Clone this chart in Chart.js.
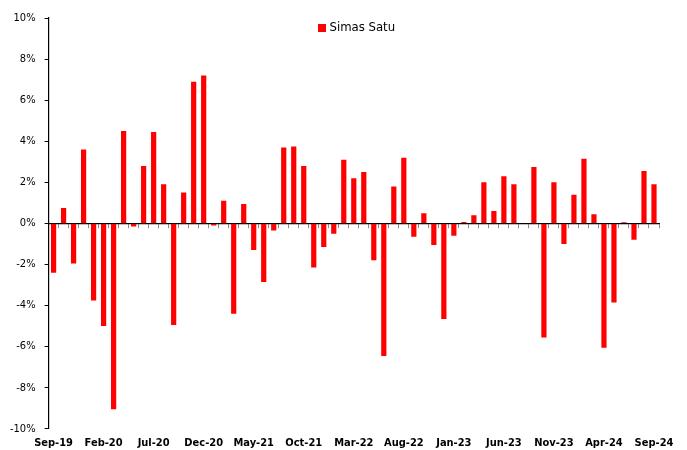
<!DOCTYPE html>
<html>
<head>
<meta charset="utf-8">
<script src="https://cdn.jsdelivr.net/npm/chart.js@4/dist/chart.umd.min.js"></script>
<style>
  body { margin: 0; background: #fff; }
  canvas { display: block; }
</style>
</head>
<body>
<canvas id="barChart" width="687" height="450"></canvas>
<script>
// monthly returns, Sep-19 .. Sep-24
const months = [
  "Sep-19", "Oct-19", "Nov-19", "Dec-19",
  "Jan-20", "Feb-20", "Mar-20", "Apr-20", "May-20", "Jun-20", "Jul-20", "Aug-20", "Sep-20", "Oct-20", "Nov-20", "Dec-20",
  "Jan-21", "Feb-21", "Mar-21", "Apr-21", "May-21", "Jun-21", "Jul-21", "Aug-21", "Sep-21", "Oct-21", "Nov-21", "Dec-21",
  "Jan-22", "Feb-22", "Mar-22", "Apr-22", "May-22", "Jun-22", "Jul-22", "Aug-22", "Sep-22", "Oct-22", "Nov-22", "Dec-22",
  "Jan-23", "Feb-23", "Mar-23", "Apr-23", "May-23", "Jun-23", "Jul-23", "Aug-23", "Sep-23", "Oct-23", "Nov-23", "Dec-23",
  "Jan-24", "Feb-24", "Mar-24", "Apr-24", "May-24", "Jun-24", "Jul-24", "Aug-24", "Sep-24"
];

const simasSatu = [
  -2.4, 0.75, -1.95, 3.6,
  -3.75, -5.0, -9.05, 4.5, -0.15, 2.8, 4.45, 1.9, -4.95, 1.5, 6.9, 7.2,
  -0.1, 1.1, -4.4, 0.95, -1.3, -2.85, -0.35, 3.7, 3.75, 2.8, -2.15, -1.15,
  -0.5, 3.1, 2.2, 2.5, -1.8, -6.45, 1.8, 3.2, -0.65, 0.5, -1.05, -4.65,
  -0.6, 0.07, 0.4, 2.0, 0.6, 2.3, 1.9, 0, 2.75, -5.55, 2.0, -1.0,
  1.4, 3.15, 0.45, -6.05, -3.85, 0.05, -0.8, 2.55, 1.9
];

const labelEvery = 5;
const yTicks = { min: -10, max: 10, step: 2 };

const baseFont = "'DejaVu Sans Condensed', 'DejaVu Sans', sans-serif";

// legend sits inside the plot, near the top, like the original
const insideLegend = {
  id: "insideLegend",
  afterDraw(chart) {
    const { ctx, chartArea } = chart;
    const ds = chart.data.datasets[0];
    ctx.save();
    ctx.font = "13px " + baseFont;
    const textW = ctx.measureText(ds.label).width;
    const box = 8, gap = 3;
    const x0 = (chartArea.left + chartArea.right) / 2 + 3 - (box + gap + textW) / 2;
    const cy = chartArea.top + 10;
    ctx.fillStyle = ds.backgroundColor;
    ctx.fillRect(Math.round(x0), Math.round(cy - box / 2), box, box);
    ctx.fillStyle = "#000";
    ctx.textBaseline = "middle";
    ctx.fillText(ds.label, x0 + box + gap, cy);
    ctx.restore();
  },
};

const ctx = document.getElementById("barChart").getContext("2d");

new Chart(ctx, {
  type: "bar",
  data: {
    labels: months,
    datasets: [
      {
        label: "Simas Satu",
        data: simasSatu,
        backgroundColor: "#FF0000",
        borderWidth: 0,
        categoryPercentage: 1.0,
        barPercentage: 0.52,
        xAxisID: "x",
      },
    ],
  },
  options: {
    responsive: false,
    animation: false,
    layout: {
      padding: { top: 18, right: 28, bottom: 0, left: 1 },
    },
    plugins: {
      legend: { display: false },
      tooltip: { enabled: false },
    },
    scales: {
      x: {
        type: "category",
        position: "bottom",
        grid: { display: false },
        border: { display: false },
        ticks: {
          autoSkip: false,
          maxRotation: 0,
          padding: 0,
          color: "#000",
          font: { family: baseFont, size: 11, weight: "bold" },
          callback: (v, i) => (i % labelEvery === 0 ? months[i] : ""),
        },
      },
      // zero line with small tick marks between the months
      xZero: {
        type: "category",
        axis: "x",
        position: { y: 0 },
        offset: true,
        grid: {
          display: true,
          drawOnChartArea: false,
          drawTicks: true,
          tickLength: 4,
          color: "#8c8c8c",
          offset: true,
        },
        border: { display: true, color: "#000", width: 1.2 },
        ticks: { display: false },
      },
      y: {
        min: yTicks.min,
        max: yTicks.max,
        grid: {
          drawOnChartArea: false,
          drawTicks: true,
          tickLength: 4,
          color: "#000",
        },
        border: { display: true, color: "#000", width: 1.2 },
        ticks: {
          stepSize: yTicks.step,
          padding: 9,
          color: "#000",
          font: { family: baseFont, size: 11 },
          callback: (v) => v + "%",
        },
      },
    },
  },
  plugins: [insideLegend],
});
</script>
</body>
</html>
